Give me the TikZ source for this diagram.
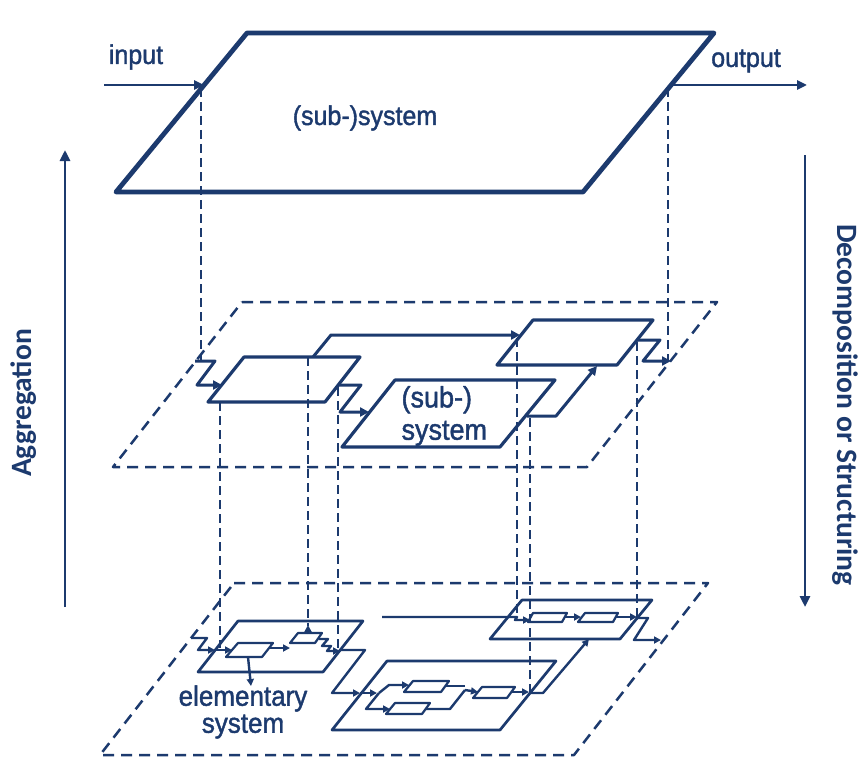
\documentclass[tikz,border=0pt]{standalone}
\usepackage{fontspec}
\setmainfont{Liberation Sans}
\newfontfamily\medfont[FakeBold=1.5]{Liberation Sans}
\newfontfamily\carl{Carlito}
\usetikzlibrary{arrows.meta}
\definecolor{navy}{HTML}{1C3A6E}
\begin{document}
\begin{tikzpicture}[x=1pt,y=-1pt,line join=round,
  top/.style={draw=navy,line width=4.8pt},
  mbox/.style={draw=navy,line width=3.2pt},
  bbox/.style={draw=navy,line width=2.7pt},
  ibox/.style={draw=navy,line width=2.2pt},
  layer/.style={draw=navy,line width=2.5pt,dash pattern=on 11pt off 7pt},
  proj/.style={draw=navy,line width=2pt,dash pattern=on 9pt off 5pt},
  tflow/.style={draw=navy,line width=2.8pt,-{Triangle[length=10pt,width=9pt]}},
  mflow/.style={draw=navy,line width=3pt,-{Triangle[length=9pt,width=9pt]}},
  bflow/.style={draw=navy,line width=2.4pt,-{Triangle[length=7pt,width=7pt]}},
  bline/.style={draw=navy,line width=2.4pt},
  lbl/.style={text=navy,yscale=1.08,font=\medfont\fontsize{25}{28}\selectfont},
  side/.style={text=navy,font=\carl\bfseries\fontsize{29.5}{32}\selectfont},
  bigarrow/.style={draw=navy,line width=2.7pt,-{Triangle[length=11pt,width=10pt]}}
]
\useasboundingbox[fill=white] (0,0) rectangle (859,757);

% ---------- side arrows ----------
\draw[bigarrow] (65,607) -- (65,150);
\draw[bigarrow] (805,155) -- (805,607);
\node[side,rotate=90] (agg) at (24,403) {Aggregation};
\node[side,rotate=-90] (dec) at (845,405) {Decomposition or Structuring};

% ---------- projections ----------
\draw[proj] (201,88) -- (201,361);
\draw[proj] (668,88) -- (668,361);
\draw[proj] (220,402) -- (220,648);
\draw[proj] (308,357) -- (308,626);
\draw[proj] (338,387) -- (338,650);
\draw[proj] (517,338) -- (517,614);
\draw[proj] (530,418) -- (530,693);
\draw[proj] (637,342) -- (637,617);

% ---------- top layer ----------
\draw[top] (247,33) -- (714,33) -- (583,192) -- (116,192) -- cycle;
\draw[tflow] (104,85) -- (204,85);
\draw[tflow] (671,85) -- (807,85);
\node[lbl] (in) at (136,57) {input};
\node[lbl] (out) at (746,61) {output};
\node[lbl] (ss) at (365,118) {(sub-)system};

% ---------- middle layer ----------
\draw[layer] (242,302) -- (717,302) -- (587,467) -- (113,467) -- cycle;
% box A
\draw[mbox] (244,357) -- (360,357) -- (325,402) -- (208,402) -- cycle;
% box B
\draw[mbox] (395,380) -- (555,380) -- (500,447) -- (342,447) -- cycle;
% box C
\draw[mbox] (533,320) -- (653,320) -- (617,365) -- (497,365) -- cycle;
\node[lbl,font=\medfont\fontsize{27}{30}\selectfont,align=left,anchor=west] (bt) at (398,416) {(sub-)\\system};
\draw[mflow] (195,361) -- (215,361) -- (197,385) -- (222,385);
\draw[mflow] (313,357) -- (331,335) -- (520,335);
\draw[mflow] (339,385) -- (361,385) -- (340,412) -- (369,412);
\draw[mflow] (527,416) -- (556,416) -- (597,366);
\draw[mflow] (638,340) -- (660,340) -- (643,361) -- (671,361);

% ---------- bottom layer ----------
\draw[layer] (234,583) -- (708,583) -- (574,755) -- (100,755) -- cycle;
% box E
\draw[bbox] (238,621) -- (363,621) -- (323,672) -- (198,672) -- cycle;
% box D
\draw[ibox] (238,643) -- (273,643) -- (262,657) -- (226,657) -- cycle;
% box F
\draw[ibox] (298,633) -- (322,633) -- (315,643) -- (290,643) -- cycle;
\draw[bflow] (191,638) -- (207,638) -- (198,650) -- (215,650);
\draw[bflow] (215,650) -- (232,650);
\draw[bflow] (248,657) -- (251,686);
\draw[bflow] (269,648) -- (290,648);
\draw[bflow] (308,634) -- (308,625);
\draw[bflow] (319,639) -- (328,639) -- (322,646) -- (331,646) -- (327,651) -- (340,651);
\draw[bflow] (340,650) -- (365,650) -- (332,693) -- (360,693);
\draw[bflow] (360,693) -- (377,693);
% box G
\draw[bbox] (387,661) -- (556,661) -- (500,730) -- (332,730) -- cycle;
% box H, I, J
\draw[ibox] (413,681) -- (449,681) -- (441,692) -- (404,692) -- cycle;
\draw[ibox] (395,703) -- (430,703) -- (422,714) -- (386,714) -- cycle;
\draw[ibox] (482,687) -- (515,687) -- (507,698) -- (473,698) -- cycle;
\draw[bflow] (379,693) -- (389,685) -- (409,685);
\draw[bflow] (379,693) -- (366,709) -- (390,709);
\draw[bline] (445,686) -- (465,686);
\draw[bline] (426,709) -- (450,709) -- (465,690);
\draw[bflow] (465,690) -- (478,692);
\draw[bflow] (511,692) -- (529,692);
\draw[bflow] (530,693) -- (543,693) -- (589,639);
% box K, L, M
\draw[bbox] (522,600) -- (652,600) -- (620,639) -- (490,639) -- cycle;
\draw[ibox] (533,613) -- (567,613) -- (562,622) -- (528,622) -- cycle;
\draw[ibox] (585,613) -- (618,613) -- (613,622) -- (578,622) -- cycle;
\draw[bflow] (382,617) -- (517,617) -- (515,620) -- (530,620);
\draw[bflow] (565,617) -- (581,617);
\draw[bflow] (616,617) -- (637,617);
\draw[bflow] (637,618) -- (648,618) -- (634,640) -- (661,640);
\node[lbl,font=\medfont\fontsize{26}{25}\selectfont,align=center] (el) at (243,712) {elementary\\system};
\end{tikzpicture}
\end{document}
